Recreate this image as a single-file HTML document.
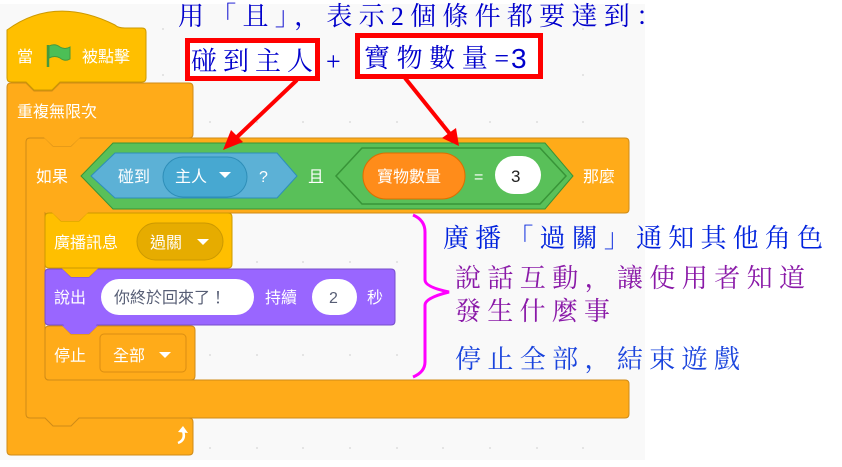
<!DOCTYPE html>
<html><head><meta charset="utf-8"><style>
html,body{margin:0;padding:0;background:#fff;width:842px;height:467px;overflow:hidden}
svg{display:block}
.w{fill:#fff;font-family:"Liberation Sans","Noto Sans CJK TC","Noto Sans CJK SC",sans-serif;font-size:16px}
.a{font-family:"Liberation Serif","Noto Serif CJK SC",serif;font-size:26px}
</style></head><body>
<svg width="842" height="467" viewBox="0 0 842 467" xmlns="http://www.w3.org/2000/svg">
<rect x="0" y="4" width="645" height="456" fill="#f9f9f9"/>
<g fill="#ddd">
<circle cx="163" cy="29" r="1"/><circle cx="163" cy="75" r="1"/><circle cx="210" cy="122" r="1"/><circle cx="257" cy="122" r="1"/><circle cx="303" cy="122" r="1"/><circle cx="350" cy="122" r="1"/><circle cx="397" cy="122" r="1"/><circle cx="443" cy="122" r="1"/><circle cx="490" cy="122" r="1"/><circle cx="537" cy="122" r="1"/><circle cx="583" cy="122" r="1"/><circle cx="583" cy="75" r="1"/><circle cx="583" cy="29" r="1"/>
<circle cx="257" cy="262" r="1"/><circle cx="303" cy="262" r="1"/><circle cx="350" cy="262" r="1"/><circle cx="397" cy="262" r="1"/><circle cx="210" cy="355" r="1"/><circle cx="257" cy="355" r="1"/><circle cx="303" cy="355" r="1"/><circle cx="350" cy="355" r="1"/><circle cx="397" cy="355" r="1"/>
<circle cx="210" cy="448" r="1"/><circle cx="257" cy="448" r="1"/><circle cx="303" cy="448" r="1"/><circle cx="350" cy="448" r="1"/><circle cx="397" cy="448" r="1"/><circle cx="443" cy="448" r="1"/><circle cx="490" cy="448" r="1"/><circle cx="537" cy="448" r="1"/><circle cx="583" cy="448" r="1"/>
</g>
<!-- forever -->
<path d="M11 83 H26 L34 91 H52 L60 83 H189 Q193 83 193 87 V134 Q193 138 189 138 H30 V414 Q30 418 34 418 H189 Q193 418 193 422 V451 Q193 455 189 455 H11 Q7 455 7 451 V87 Q7 83 11 83Z" fill="#ffab19" stroke="#cf8b17" stroke-width="1"/>
<text class="w" x="17" y="117">重複無限次</text>
<path d="M178 443 Q186 440 183 431" fill="none" stroke="#fff" stroke-width="2.5"/>
<path d="M178 432 L183 426 L188 433Z" fill="#fff"/>
<!-- hat -->
<path d="M7 30 Q55 -5 115 25 Q118 28 125 28 H142 Q146 28 146 32 V78 Q146 82 142 82 H60 L52 90 H34 L26 82 H11 Q7 82 7 78Z" fill="#ffbf00" stroke="#cc9900" stroke-width="1"/>
<text class="w" x="17" y="62">當</text>
<path d="M48 45 V67" stroke="#45993d" stroke-width="2.5"/>
<path d="M49 46 Q55 43 60 47 Q65 50 70 47 V59 Q65 62 60 58 Q55 55 49 58Z" fill="#4cbf56" stroke="#45993d"/>
<text class="w" x="82" y="62">被點擊</text>
<!-- if -->
<path d="M30 138 H45 L53 146 H71 L79 138 H625 Q629 138 629 142 V209 Q629 213 625 213 H79 L71 221 H53 L45 213 V376 Q45 380 49 380 H625 Q629 380 629 384 V414 Q629 418 625 418 H79 L71 426 H53 L45 418 H30 Q26 418 26 414 V142 Q26 138 30 138Z" fill="#ffab19" stroke="#cf8b17"/>
<path d="M44 137.5 L53 146 H71 L80 137.5Z" fill="#ffab19"/>
<text class="w" x="36" y="182">如果</text>
<text class="w" x="583" y="182">那麼</text>
<path d="M113 143 H545 L573 176 L545 209 H113 L81 176Z" fill="#59c059" stroke="#389438"/>
<path d="M115 153 H277 L297 176 L277 198 H115 L91 176Z" fill="#5cb1d6" stroke="#2e8eb8"/>
<text class="w" x="118" y="182">碰到</text>
<rect x="163" y="157" width="84" height="40" rx="20" fill="#47a8d1" stroke="#2e8eb8"/>
<text class="w" x="175" y="182">主人</text>
<path d="M219 172 h12 l-6 6z" fill="#fff"/>
<text class="w" x="259" y="182">?</text>
<text class="w" x="308" y="182">且</text>
<path d="M362 148 H540 L566 176 L540 204 H362 L336 176Z" fill="#59c059" stroke="#389438" stroke-width="1.5"/>
<rect x="363" y="153" width="102" height="46" rx="23" fill="#ff8c1a" stroke="#db6e00"/>
<text class="w" x="377" y="182">寶物數量</text>
<text class="w" x="474" y="182">=</text>
<rect x="495" y="156" width="46" height="38" rx="19" fill="#fff"/>
<text x="511" y="182" font-family="Liberation Sans,sans-serif" font-size="17" fill="#222">3</text>
<!-- broadcast -->
<path d="M49 213 H53 L61 221 H79 L87 213 H228 Q232 213 232 217 V264 Q232 268 228 268 H49 Q45 268 45 264 V217 Q45 213 49 213Z" fill="#ffbf00" stroke="#cc9900"/>
<path d="M52 212.5 L61 221 H79 L88 212.5Z" fill="#ffab19"/>
<text class="w" x="54" y="248">廣播訊息</text>
<rect x="137" y="223" width="86" height="37" rx="18.5" fill="#e6ac00" stroke="#cc9900"/>
<text class="w" x="150" y="248">過關</text>
<path d="M197 239 h12 l-6 6z" fill="#fff"/>
<!-- say -->
<path d="M49 269 H63 L71 277 H89 L97 269 H391 Q395 269 395 273 V321 Q395 325 391 325 H97 L89 333 H71 L63 325 H49 Q45 325 45 321 V273 Q45 269 49 269Z" fill="#9966ff" stroke="#774dcb"/>
<path d="M62 268.5 L71 277 H89 L98 268.5Z" fill="#ffbf00"/>
<text class="w" x="54" y="303">說出</text>
<rect x="101" y="279" width="153" height="36" rx="18" fill="#fff"/>
<text x="114" y="303" font-family="Liberation Sans,Noto Sans CJK TC,sans-serif" font-size="16" fill="#575e75">你終於回來了！</text>
<text class="w" x="265" y="303">持續</text>
<rect x="312" y="279" width="45" height="36" rx="18" fill="#fff"/>
<text x="329" y="303" font-family="Liberation Sans,sans-serif" font-size="16" fill="#575e75">2</text>
<text class="w" x="367" y="303">秒</text>
<!-- stop -->
<path d="M49 326 H63 L71 334 H89 L97 326 H191 Q195 326 195 330 V376 Q195 380 191 380 H49 Q45 380 45 376 V330 Q45 326 49 326Z" fill="#ffab19" stroke="#cf8b17"/>
<path d="M62 325.5 L71 334 H89 L98 325.5Z" fill="#9966ff"/>
<text class="w" x="54" y="361">停止</text>
<rect x="100" y="334" width="86" height="38" rx="4" fill="#ffab19" stroke="#db8e12"/>
<text class="w" x="113" y="361">全部</text>
<path d="M159 352 h12 l-6 6z" fill="#fff"/>
<!-- annotations -->
<text class="a" x="178" y="25" fill="#0000cc" textLength="484" lengthAdjust="spacing">用「且」，表示2個條件都要達到：</text>
<rect x="187.5" y="40.5" width="130" height="38" fill="#fff" stroke="#ff0000" stroke-width="5"/>
<text class="a" x="191" y="70" fill="#0000cc" textLength="122" lengthAdjust="spacing">碰到主人</text>
<text class="a" x="326" y="70" fill="#0000cc">+</text>
<rect x="357.5" y="35.5" width="183" height="41" fill="#fff" stroke="#ff0000" stroke-width="5"/>
<text class="a" x="364" y="67" fill="#0000cc" textLength="145" lengthAdjust="spacing">寶物數量=</text>
<text x="511" y="68" font-family="Liberation Sans,sans-serif" font-size="28" fill="#0000cc">3</text>
<line x1="297" y1="80" x2="236" y2="138" stroke="#ff0000" stroke-width="4"/>
<path d="M223 150 L231 130 L243 142Z" fill="#ff0000"/>
<line x1="405" y1="78" x2="450" y2="134" stroke="#ff0000" stroke-width="4"/>
<path d="M459 146 L442 138 L456 128Z" fill="#ff0000"/>
<path d="M413 215 Q425 220 425 232 V280 Q425 287 449 292 Q425 298 425 305 V362 Q425 372 413 377" fill="none" stroke="#ff00ff" stroke-width="3"/>
<text class="a" x="443" y="247" fill="#0022dd" textLength="380" lengthAdjust="spacing">廣播「過關」通知其他角色</text>
<text class="a" x="455" y="287" fill="#8a1aa8" textLength="350" lengthAdjust="spacing">說話互動，讓使用者知道</text>
<text class="a" x="455" y="320" fill="#8a1aa8" textLength="155" lengthAdjust="spacing">發生什麼事</text>
<text class="a" x="455" y="368" fill="#1a44dd" textLength="285" lengthAdjust="spacing">停止全部，結束遊戲</text>
</svg>
</body></html>
